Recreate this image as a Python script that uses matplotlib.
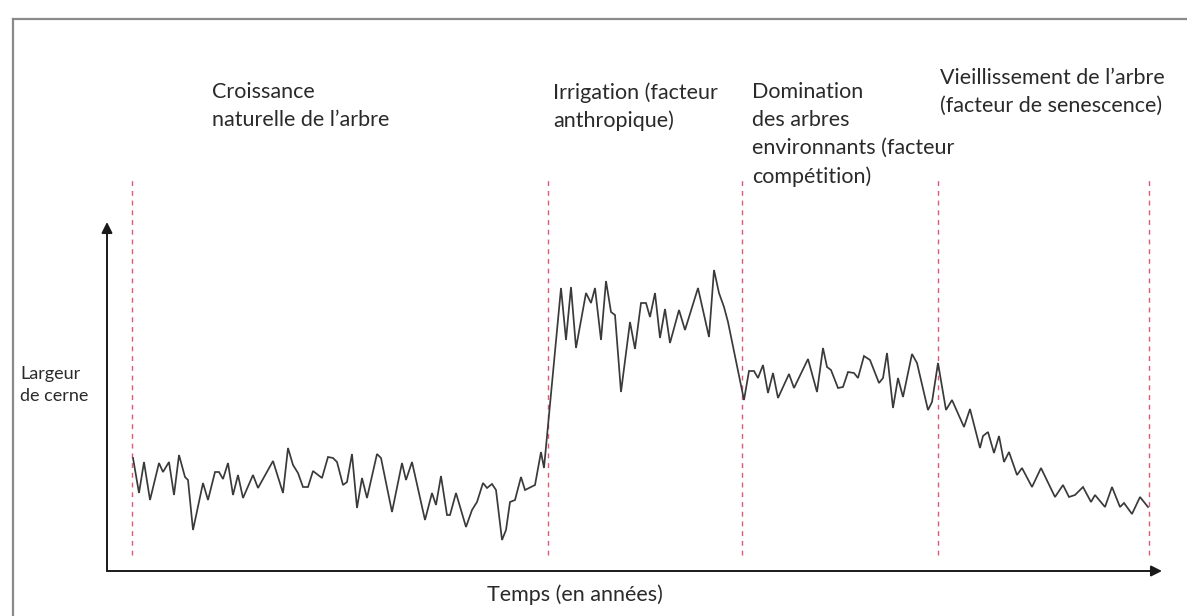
import matplotlib
matplotlib.use("Agg")
import matplotlib.pyplot as plt
from matplotlib.lines import Line2D

# ---- data ----
years = [
    0.2, 1.4, 2.4, 3.6, 5.4, 6.2, 7.4, 8.4, 9.4, 10.6, 11.2, 12.2, 14.2, 15.2, 16.6, 17.4, 18.2,
    19.2, 20.2, 21.2, 22.2, 24.2, 25.2, 28.2, 30.2, 31.2, 32.2, 33.2, 34.2, 35.2, 36.2, 38.0, 39.2, 40.2,
    41.0, 42.2, 43.0, 44.0, 45.0, 46.0, 47.0, 49.0, 49.8, 52.0, 54.0, 54.8, 56.0, 58.6, 60.0, 60.8,
    61.8, 63.0, 63.6, 64.8, 66.8, 68.0, 69.0, 70.2, 71.0, 72.0, 72.8, 74.0, 74.8, 75.6, 76.6, 77.8,
    78.6, 80.6, 81.8, 82.4,
    85.8, 86.8, 87.8, 88.8, 90.8, 91.8, 92.6, 93.8, 94.8, 95.8, 96.6, 97.8, 99.6, 100.6, 101.8, 102.8,
    103.6, 104.6, 105.6, 106.6, 107.6, 109.4, 110.6, 113.2, 115.4, 116.4, 117.4, 118.4, 119.2,
    122.4, 123.4, 124.4, 125.2, 126.2, 127.2, 128.2, 129.2, 131.4, 132.4, 135.2, 137.0, 138.2, 139.0,
    139.8, 141.2, 142.2, 143.2, 144.4, 145.2, 146.4, 147.6, 149.4, 150.2, 151.0, 152.2, 153.2, 154.2,
    156.0, 157.0, 159.2, 160.0, 161.2,
    162.8, 164.0, 166.4, 167.6, 169.6, 170.2, 171.2, 172.4, 173.4, 174.4, 175.4, 177.0, 178.0, 180.0,
    181.8, 184.6, 186.2, 187.4, 188.6, 190.2, 191.8, 192.6, 194.6, 196.0, 197.6, 198.4, 200.0, 201.6, 203.2,
]
ring_width = [
    1.13, 0.78, 1.09, 0.71, 1.08, 0.99, 1.09, 0.76, 1.16, 0.94, 0.91, 0.41, 0.88, 0.71, 0.99, 0.99, 0.92,
    1.08, 0.76, 0.96, 0.73, 0.96, 0.83, 1.10, 0.78, 1.23, 1.06, 0.98, 0.84, 0.84, 1.00, 0.93, 1.14, 1.13,
    1.09, 0.86, 0.89, 1.17, 0.63, 0.93, 0.73, 1.17, 1.13, 0.59, 1.08, 0.91, 1.09, 0.51, 0.78, 0.66,
    0.95, 0.56, 0.56, 0.78, 0.44, 0.61, 0.69, 0.88, 0.83, 0.87, 0.81, 0.31, 0.41, 0.69, 0.71, 0.94,
    0.81, 0.86, 1.19, 1.03,
    2.83, 2.31, 2.84, 2.23, 2.78, 2.68, 2.83, 2.31, 2.90, 2.59, 2.56, 1.79, 2.49, 2.22, 2.68, 2.68,
    2.54, 2.78, 2.33, 2.62, 2.28, 2.61, 2.41, 2.83, 2.34, 3.01, 2.78, 2.64, 2.49,
    1.71, 2.00, 2.00, 1.93, 2.06, 1.78, 1.98, 1.73, 1.97, 1.83, 2.12, 1.79, 2.23, 2.04,
    2.01, 1.83, 1.84, 1.99, 1.98, 1.93, 2.15, 2.11, 1.88, 1.93, 2.18, 1.63, 1.93, 1.74,
    2.17, 2.08, 1.61, 1.69, 2.08,
    1.61, 1.71, 1.44, 1.62, 1.23, 1.35, 1.39, 1.18, 1.35, 1.09, 1.19, 0.96, 1.03, 0.84,
    1.03, 0.74, 0.86, 0.74, 0.76, 0.84, 0.69, 0.76, 0.64, 0.84, 0.64, 0.68, 0.57, 0.74, 0.64,
]
assert len(years) == len(ring_width)

phase_bounds = [0.0, 83.2, 122.0, 161.2, 203.4]
phase_labels = [
    "Croissance\nnaturelle de l\u2019arbre",
    "Irrigation (facteur\nanthropique)",
    "Domination\ndes arbres\nenvironnants (facteur\ncomp\u00e9tition)",
    "Vieillissement de l\u2019arbre\n(facteur de senescence)",
]
y_label = "Largeur\nde cerne"
x_label = "Temps (en ann\u00e9es)"

# ---- figure ----
W, H = 1187, 616
plt.rcParams['font.family'] = ['Lato', 'DejaVu Sans']
fig = plt.figure(figsize=(W / 100, H / 100), dpi=100)
fig.patch.set_facecolor('white')

def fx(px):
    return px / W

def fy(py):
    return 1 - py / H

# outer frame (top and left)
fig.add_artist(Line2D([fx(13), fx(W)], [fy(19), fy(19)], color='#8a8a8a', lw=1.6))
fig.add_artist(Line2D([fx(13), fx(13)], [fy(19), fy(H)], color='#8a8a8a', lw=1.6))

ax_l, ax_r, ax_b, ax_t = 107, 1162, 571, 222
ax = fig.add_axes([fx(ax_l), fy(ax_b), fx(ax_r) - fx(ax_l), fy(ax_t) - fy(ax_b)])
ax.set_xlim(-5, 206)
ax.set_ylim(0, 3.49)
ax.set_axis_off()

# phase boundaries
ax.vlines(phase_bounds, 0.16, 3.91, colors='#dc5a72', linestyles=(0, (3.5, 3.5)), lw=1.0,
          clip_on=False)

# ring width series
ax.plot(years, ring_width, color='#3a3a3a', lw=1.25, solid_joinstyle='miter', clip_on=False)

# axis arrows
arrow = dict(arrowstyle='-|>', color='#1a1a1a', lw=1.4, mutation_scale=16, shrinkA=0, shrinkB=0)
ax.annotate('', xy=(1, 0), xytext=(0, 0), xycoords='axes fraction', arrowprops=arrow)
ax.annotate('', xy=(0, 1), xytext=(0, 0), xycoords='axes fraction', arrowprops=arrow)

# texts
txt = dict(color='#2a2a2a', fontsize=15.5, linespacing=1.5)
label_pos = [(212, 82), (553, 82), (752, 82), (940, 68)]
for (px, py), lab in zip(label_pos, phase_labels):
    fig.text(fx(px), fy(py), lab, ha='left', va='top', **txt)

fig.text(fx(20), fy(385), y_label, ha='left', va='center', color='#2a2a2a', fontsize=13,
         linespacing=1.5)
fig.text(fx(575), fy(595), x_label, ha='center', va='center', color='#2a2a2a', fontsize=15.5)

fig.savefig('out.png', dpi=100)
